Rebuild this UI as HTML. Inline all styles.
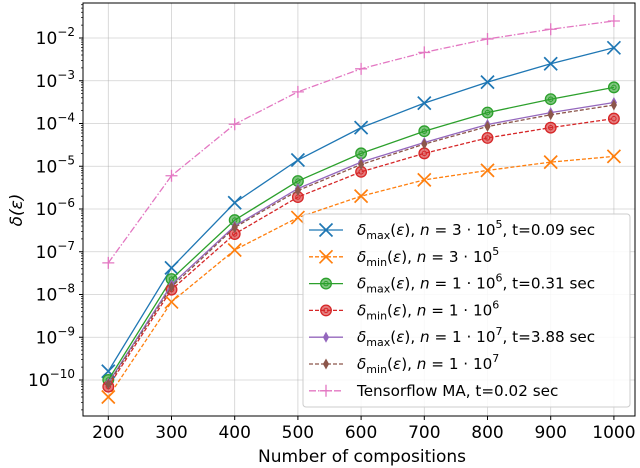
<!DOCTYPE html>
<html><head><meta charset="utf-8"><style>
html,body{margin:0;padding:0;background:#fff;}
svg{display:block;font-family:"DejaVu Sans","Liberation Sans",sans-serif;}
</style></head><body>
<svg id="chart" width="640" height="468" viewBox="0 0 640 468" xmlns="http://www.w3.org/2000/svg"></svg>
<script>
const categories = [200,300,400,500,600,700,800,900,1000];
const maxN3e5 = [1.6e-10,4.2e-8,1.4e-6,1.4e-5,8e-5,3e-4,9.3e-4,2.5e-3,5.9e-3];
const minN3e5 = [4e-11,6.7e-9,1.1e-7,6.3e-7,2e-6,4.8e-6,8e-6,1.25e-5,1.7e-5];
const maxN1e6 = [1e-10,2.3e-8,5.5e-7,4.5e-6,2e-5,6.6e-5,1.8e-4,3.7e-4,7e-4];
const minN1e6 = [7e-11,1.3e-8,2.6e-7,1.9e-6,7.4e-6,2e-5,4.6e-5,8e-5,1.3e-4];
const maxN1e7 = [8.5e-11,1.7e-8,4e-7,3e-6,1.25e-5,3.6e-5,9.5e-5,1.8e-4,3.1e-4];
const minN1e7 = [8e-11,1.5e-8,3.7e-7,2.7e-6,1.1e-5,3.3e-5,8.5e-5,1.6e-4,2.7e-4];
const tensorflow = [5.5e-8,6e-6,9.6e-5,5.5e-4,1.9e-3,4.6e-3,9.5e-3,1.6e-2,2.5e-2];
const xTicks = [200,300,400,500,600,700,800,900,1000];
const yTickExps = [-10,-9,-8,-7,-6,-5,-4,-3,-2];

const svg = document.getElementById('chart');
const NS = 'http://www.w3.org/2000/svg';
const L=83,R=635,T=3,B=416;
function x(v){return 108.3+(v-200)*0.6320;}
function y(v){return 380-(Math.log10(v)+10)*42.75;}
function mk(tag,attrs,parent){const e=document.createElementNS(NS,tag);for(const k in attrs)e.setAttribute(k,attrs[k]);(parent||svg).appendChild(e);return e;}

// grid
xTicks.forEach(t=>{const g=mk('line',{x1:x(t),x2:x(t),y1:T,y2:B,stroke:'#b0b0b0','stroke-width':0.8,'stroke-opacity':0.6});

});
yTickExps.forEach(e=>{const g=mk('line',{x1:L,x2:R,y1:y(Math.pow(10,e)),y2:y(Math.pow(10,e)),stroke:'#b0b0b0','stroke-width':0.8,'stroke-opacity':0.6});

});

// series
const series=[
 {d:maxN3e5,c:'#1f77b4',dash:'',m:'x',name:'series-max-3e5'},
 {d:minN3e5,c:'#ff7f0e',dash:'4,2',m:'x',name:'series-min-3e5'},
 {d:maxN1e6,c:'#2ca02c',dash:'',m:'o',name:'series-max-1e6'},
 {d:minN1e6,c:'#d62728',dash:'4,2',m:'o',name:'series-min-1e6'},
 {d:maxN1e7,c:'#9467bd',dash:'',m:'d',name:'series-max-1e7'},
 {d:minN1e7,c:'#8c564b',dash:'4,2',m:'d',name:'series-min-1e7'},
 {d:tensorflow,c:'#e377c2',dash:'7,2,1.5,2',m:'+',name:'series-tensorflow'}
];
function marker(m,cx,cy,c,parent){
 if(m==='x'){mk('path',{d:`M${cx-6.5},${cy-6.5}L${cx+6.5},${cy+6.5}M${cx-6.5},${cy+6.5}L${cx+6.5},${cy-6.5}`,stroke:c,'stroke-width':1.7,fill:'none'},parent);}
 else if(m==='o'){mk('circle',{cx:cx,cy:cy,r:5.3,fill:c,'fill-opacity':0.6,stroke:c,'stroke-width':1.3},parent);mk('circle',{cx:cx,cy:cy,r:2.2,fill:'none',stroke:c,'stroke-width':1},parent);}
 else if(m==='d'){mk('path',{d:`M${cx},${cy-4.5}L${cx+2.5},${cy}L${cx},${cy+4.5}L${cx-2.5},${cy}Z`,fill:c,stroke:c,'stroke-width':1},parent);}
 else if(m==='+'){mk('path',{d:`M${cx-6},${cy}L${cx+6},${cy}M${cx},${cy-6}L${cx},${cy+6}`,stroke:c,'stroke-width':1.3},parent);}
}
series.forEach(s=>{
 const g=mk('g',{});
 
 
 const pts=s.d.map((v,i)=>x(categories[i])+','+y(v)).join(' ');
 mk('polyline',{points:pts,fill:'none',stroke:s.c,'stroke-width':1.3,'stroke-dasharray':s.dash},g);
 s.d.forEach((v,i)=>marker(s.m,x(categories[i]),y(v),s.c,g));
});

// axes frame
const fr=mk('rect',{x:L,y:T,width:R-L,height:B-T,fill:'none',stroke:'#000','stroke-width':1});



// x ticks
xTicks.forEach(t=>{mk('line',{x1:x(t),x2:x(t),y1:B,y2:B+4,stroke:'#000'});
 const tx=mk('text',{x:x(t),y:B+22,'text-anchor':'middle','font-size':17});tx.textContent=t;
 
 });
// y ticks
for(let e=-11;e<=-1;e++){for(let k=1;k<10;k++){const v=k*Math.pow(10,e);const yy=y(v);if(yy<T||yy>B)continue;
 mk('line',{x1:L-(k===1?4:2),x2:L,y1:yy,y2:yy,stroke:'#000','stroke-width':k===1?1:0.7});}}
yTickExps.forEach(e=>{const yy=y(Math.pow(10,e));
 const tx=mk('text',{x:L-8,y:yy+6,'text-anchor':'end','font-size':17});
 
 
 const a=mk('tspan',{},tx);a.textContent='10';const b=mk('tspan',{dy:-8,'font-size':12},tx);b.textContent='\u2212'+(-e);});

const xl=mk('text',{x:(L+R)/2+3,y:462,'text-anchor':'middle','font-size':17});xl.textContent='Number of compositions';


const yl=mk('text',{x:0,y:0,'text-anchor':'middle','font-size':17,transform:'translate(22,210) rotate(-90)','font-style':'italic'});yl.textContent='δ(ε)';



// legend
const lg=mk('g',{});


mk('rect',{x:303,y:214,width:327,height:193,rx:3,fill:'#fff','fill-opacity':0.85,stroke:'#cccccc'},lg);
const labels=[
 ['max','3','5',', t=0.09 sec'],['min','3','5',''],['max','1','6',', t=0.31 sec'],
 ['min','1','6',''],['max','1','7',', t=3.88 sec'],['min','1','7',''],null];
series.forEach((s,i)=>{
 const cy=230+i*26.8;
 const e=mk('g',{},lg);
 
 
 mk('line',{x1:309,x2:343,y1:cy,y2:cy,stroke:s.c,'stroke-width':1.3,'stroke-dasharray':s.dash},e);
 marker(s.m,326,cy,s.c,e);
 const t=mk('text',{x:357,y:cy+5,'font-size':15.2},e);
 const lb=labels[i];
 if(!lb){t.textContent='Tensorflow MA, t=0.02 sec';return;}
 const p=(txt,attrs)=>{const ts=mk('tspan',attrs||{},t);ts.textContent=txt;return ts;};
 p('δ',{'font-style':'italic'});p(lb[0],{'font-size':11,dy:4});p('(',{dy:-4});p('ε',{'font-style':'italic'});p('), ');
 p('n',{'font-style':'italic'});p(' =  '+lb[1]+' · 10');p(lb[2],{'font-size':11,dy:-7});p(lb[3],{dy:7});
});
</script>
</body></html>
